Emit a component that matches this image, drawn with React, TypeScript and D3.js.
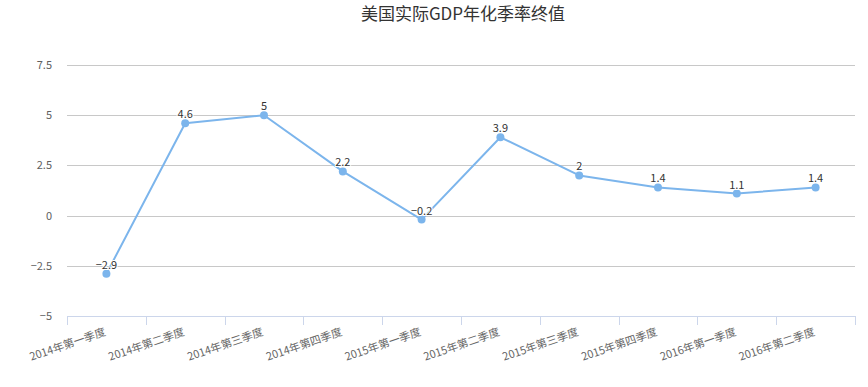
import React from "react";
import * as d3 from "d3";

const categories = [
  "2014年第一季度",
  "2014年第二季度",
  "2014年第三季度",
  "2014年第四季度",
  "2015年第一季度",
  "2015年第二季度",
  "2015年第三季度",
  "2015年第四季度",
  "2016年第一季度",
  "2016年第二季度",
];
const values = [-2.9, 4.6, 5, 2.2, -0.2, 3.9, 2, 1.4, 1.1, 1.4];
const yTicks = [-5, -2.5, 0, 2.5, 5, 7.5];

const W = 868;
const H = 387;
const margin = { left: 67, right: 13, top: 65, bottom: 71 };
const font = "'Noto Sans CJK SC', 'Noto Sans', sans-serif";

export default function App() {
  const x = d3
    .scaleBand<string>()
    .domain(categories)
    .range([margin.left, W - margin.right]);
  const y = d3
    .scaleLinear()
    .domain([-5, 7.5])
    .range([H - margin.bottom, margin.top]);

  const cx = (i: number) => (x(categories[i]) ?? 0) + x.bandwidth() / 2;

  const line = d3
    .line<number>()
    .x((_, i) => cx(i))
    .y((d) => y(d));

  const tickXs = categories.map((c) => x(c) ?? 0).concat([W - margin.right]);

  return (
    <svg
      width={W}
      height={H}
      style={{ position: "absolute", left: 0, top: 0, fontFamily: font }}
    >
      <rect width={W} height={H} fill="#ffffff" />
      <text
        x={463}
        y={20}
        textAnchor="middle"
        fontSize={17}
        fill="#333333"
      >
        美国实际GDP年化季率终值
      </text>

      {/* grid */}
      {yTicks.map((t) => (
        <g key={t}>
          {t !== -5 && (
            <line
              x1={margin.left}
              x2={W - margin.right}
              y1={Math.round(y(t)) + 0.5}
              y2={Math.round(y(t)) + 0.5}
              stroke="#c8c8c8"
              strokeWidth={1}
            />
          )}
          <text
            x={52}
            y={y(t) + 4}
            textAnchor="end"
            fontSize={11}
            fill="#606060"
          >
            {t < 0 ? `−${Math.abs(t)}` : t}
          </text>
        </g>
      ))}

      {/* x axis */}
      <line
        x1={margin.left}
        x2={W - margin.right}
        y1={Math.round(y(-5)) + 0.5}
        y2={Math.round(y(-5)) + 0.5}
        stroke="#ccd6eb"
      />
      {tickXs.map((tx, i) => (
        <line
          key={i}
          x1={Math.round(tx) + 0.5}
          x2={Math.round(tx) + 0.5}
          y1={y(-5)}
          y2={y(-5) + 9}
          stroke="#ccd6eb"
        />
      ))}
      {categories.map((c, i) => (
        <text
          key={c}
          transform={`translate(${cx(i)},${y(-5) + 19}) rotate(-19)`}
          textAnchor="end"
          fontSize={11}
          fill="#666666"
        >
          {c}
        </text>
      ))}

      {/* series */}
      <path
        d={line(values) || ""}
        fill="none"
        stroke="#7cb5ec"
        strokeWidth={2}
        strokeLinejoin="round"
      />
      {values.map((v, i) => (
        <circle key={i} cx={cx(i)} cy={y(v)} r={4} fill="#7cb5ec" />
      ))}
      {values.map((v, i) => (
        <text
          key={`l${i}`}
          x={cx(i)}
          y={y(v) - 5}
          textAnchor="middle"
          fontSize={11}
          fill="#333333"
          stroke="#ffffff"
          strokeWidth={2}
          paintOrder="stroke"
        >
          {v < 0 ? `−${Math.abs(v)}` : v}
        </text>
      ))}
    </svg>
  );
}
